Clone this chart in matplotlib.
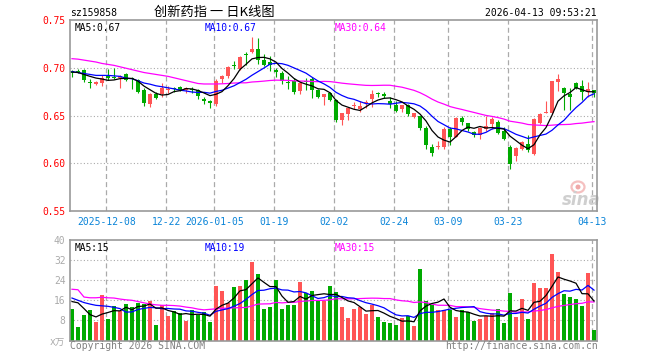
import matplotlib
matplotlib.use('Agg')
import matplotlib.pyplot as plt
import numpy as np
import pandas as pd
from matplotlib.patches import Rectangle, Ellipse

# ---------------- data ----------------
dates = [
    '2025-11-28',
    '2025-12-01', '2025-12-02', '2025-12-03', '2025-12-04', '2025-12-05',
    '2025-12-08', '2025-12-09', '2025-12-10', '2025-12-11', '2025-12-12',
    '2025-12-15', '2025-12-16', '2025-12-17', '2025-12-18', '2025-12-19',
    '2025-12-22', '2025-12-23', '2025-12-24', '2025-12-25', '2025-12-26',
    '2025-12-29', '2025-12-30', '2025-12-31',
    '2026-01-05', '2026-01-06', '2026-01-07', '2026-01-08', '2026-01-09',
    '2026-01-12', '2026-01-13', '2026-01-14', '2026-01-15', '2026-01-16',
    '2026-01-19', '2026-01-20', '2026-01-21', '2026-01-22', '2026-01-23',
    '2026-01-26', '2026-01-27', '2026-01-28', '2026-01-29', '2026-01-30',
    '2026-02-02', '2026-02-03', '2026-02-04', '2026-02-05', '2026-02-06',
    '2026-02-09', '2026-02-10', '2026-02-11', '2026-02-12', '2026-02-13',
    '2026-02-24', '2026-02-25', '2026-02-26', '2026-02-27',
    '2026-03-02', '2026-03-03', '2026-03-04', '2026-03-05', '2026-03-06',
    '2026-03-09', '2026-03-10', '2026-03-11', '2026-03-12', '2026-03-13',
    '2026-03-16', '2026-03-17', '2026-03-18', '2026-03-19', '2026-03-20',
    '2026-03-23', '2026-03-24', '2026-03-25', '2026-03-26', '2026-03-27',
    '2026-03-30', '2026-03-31', '2026-04-01', '2026-04-02', '2026-04-03',
    '2026-04-07', '2026-04-08', '2026-04-09', '2026-04-10', '2026-04-13',
]

opens = [
    0.697, 0.697, 0.698, 0.685, 0.683, 0.684, 0.691, 0.690, 0.689, 0.693,
    0.689, 0.687, 0.677, 0.662, 0.672, 0.672, 0.677, 0.679, 0.680, 0.677,
    0.678, 0.677, 0.667, 0.665, 0.662, 0.688, 0.691, 0.703, 0.699, 0.714,
    0.716, 0.7195, 0.708, 0.706, 0.698, 0.694, 0.685, 0.686, 0.676, 0.686,
    0.688, 0.677, 0.669, 0.674, 0.666, 0.6455, 0.652, 0.660, 0.657, 0.663,
    0.667, 0.674, 0.673, 0.665, 0.661, 0.657, 0.661, 0.648, 0.649, 0.637,
    0.6175, 0.617, 0.6175, 0.636, 0.628, 0.647, 0.642, 0.633, 0.6295, 0.636,
    0.641, 0.643, 0.634, 0.6165, 0.608, 0.615, 0.620, 0.610, 0.642, 0.653,
    0.653, 0.685, 0.679, 0.672, 0.6845, 0.681, 0.6745, 0.6765,
]
highs = [
    0.698, 0.699, 0.699, 0.688, 0.686, 0.692, 0.699, 0.700, 0.692, 0.695,
    0.690, 0.688, 0.679, 0.674, 0.675, 0.684, 0.681, 0.680, 0.681, 0.680,
    0.680, 0.678, 0.669, 0.666, 0.688, 0.692, 0.702, 0.707, 0.712, 0.716,
    0.732, 0.731, 0.714, 0.7125, 0.700, 0.697, 0.691, 0.689, 0.685, 0.689,
    0.690, 0.678, 0.673, 0.675, 0.667, 0.653, 0.658, 0.664, 0.665, 0.666,
    0.677, 0.675, 0.675, 0.669, 0.665, 0.661, 0.662, 0.6525, 0.650, 0.6395,
    0.620, 0.6235, 0.6375, 0.6375, 0.648, 0.649, 0.642, 0.634, 0.6375, 0.650,
    0.648, 0.645, 0.6375, 0.619, 0.6175, 0.6235, 0.6295, 0.647, 0.653, 0.6655,
    0.686, 0.693, 0.680, 0.679, 0.685, 0.6875, 0.685, 0.6765,
]
lows = [
    0.690, 0.695, 0.685, 0.679, 0.682, 0.681, 0.687, 0.688, 0.679, 0.686,
    0.678, 0.674, 0.660, 0.659, 0.667, 0.669, 0.674, 0.675, 0.676, 0.674,
    0.674, 0.667, 0.662, 0.658, 0.660, 0.684, 0.689, 0.699, 0.698, 0.703,
    0.715, 0.704, 0.702, 0.697, 0.690, 0.683, 0.678, 0.673, 0.672, 0.677,
    0.668, 0.668, 0.661, 0.665, 0.643, 0.640, 0.645, 0.657, 0.6535, 0.658,
    0.659, 0.669, 0.668, 0.658, 0.6535, 0.6535, 0.649, 0.6475, 0.635, 0.615,
    0.608, 0.615, 0.615, 0.619, 0.627, 0.640, 0.634, 0.628, 0.625, 0.634,
    0.636, 0.631, 0.6245, 0.5935, 0.602, 0.614, 0.612, 0.6085, 0.641, 0.6525,
    0.652, 0.6755, 0.656, 0.656, 0.678, 0.6665, 0.669, 0.669,
]
closes = [
    0.694, 0.696, 0.687, 0.684, 0.685, 0.689, 0.689, 0.689, 0.691, 0.687,
    0.688, 0.675, 0.663, 0.672, 0.668, 0.679, 0.678, 0.678, 0.677, 0.679,
    0.677, 0.670, 0.665, 0.663, 0.686, 0.691, 0.701, 0.702, 0.711, 0.713,
    0.7195, 0.708, 0.703, 0.703, 0.696, 0.686, 0.684, 0.675, 0.684, 0.685,
    0.677, 0.669, 0.672, 0.666, 0.645, 0.6525, 0.658, 0.661, 0.660, 0.664,
    0.673, 0.673, 0.670, 0.662, 0.655, 0.661, 0.652, 0.6525, 0.637, 0.619,
    0.611, 0.618, 0.636, 0.627, 0.647, 0.6435, 0.636, 0.6295, 0.6365, 0.639,
    0.646, 0.632, 0.6255, 0.5995, 0.6155, 0.622, 0.614, 0.646, 0.6515, 0.6535,
    0.686, 0.688, 0.674, 0.669, 0.679, 0.675, 0.6775, 0.674,
]
volumes = [
    12.4, 5.2, 10.0, 12.0, 7.3, 18.0, 8.4, 13.7, 11.6, 14.4,
    13.2, 14.8, 14.5, 15.7, 6.0, 14.0, 9.6, 11.6, 10.8, 7.6,
    12.0, 10.3, 11.2, 7.3, 21.6, 19.6, 14.8, 21.2, 21.6, 24.0,
    31.3, 26.4, 12.4, 13.2, 24.0, 12.4, 14.0, 14.0, 23.2, 18.8,
    19.6, 15.7, 15.7, 21.6, 19.3, 13.3, 8.9, 12.5, 13.3, 10.5,
    14.1, 9.3, 7.3, 6.9, 6.1, 8.9, 9.7, 5.7, 28.5, 15.7,
    14.1, 12.3, 12.0, 12.0, 9.3, 12.0, 11.3, 7.7, 8.4, 9.7,
    11.1, 12.4, 6.9, 18.9, 9.3, 16.5, 8.4, 22.9, 20.9, 20.9,
    34.5, 27.2, 18.5, 17.3, 16.5, 13.7, 26.9, 4.1,
]

# moving-average values at the left edge (history before the window)
price_ma5_head = [0.6955, 0.695, 0.693, 0.691]
price_ma10_head = [0.696, 0.695, 0.694, 0.693, 0.692, 0.692, 0.692, 0.6915, 0.691]
price_ma30_head = [0.7095, 0.709, 0.708, 0.707, 0.706, 0.7045, 0.7035, 0.7025, 0.701, 0.6995,
                   0.698, 0.6965, 0.695, 0.694, 0.693, 0.692, 0.691, 0.6895, 0.688, 0.6865,
                   0.685, 0.6835, 0.683, 0.683, 0.683, 0.6832, 0.6835, 0.684, 0.6842]
vol_ma5_head = [15.5, 15.0, 12.7, 10.3]
vol_ma10_head = [16.9, 16.0, 15.1, 14.5, 14.0, 13.8, 13.6, 13.2, 12.7]
vol_ma30_head = [20.4, 20.2, 17.3, 17.0, 17.0, 17.2, 17.0, 16.9, 16.5, 16.2,
                 16.0, 15.5, 15.0, 14.5, 14.2, 14.0, 14.0, 13.9, 13.7, 13.3,
                 13.0, 12.5, 12.2, 12.4, 12.6, 12.8, 12.9, 13.0, 13.1]

price_ma_labels = [0.67, 0.67, 0.64]
vol_ma_labels = [15, 19, 15]

tick_dates = ['2025-12-08', '2025-12-22', '2026-01-05', '2026-01-19', '2026-02-02',
              '2026-02-24', '2026-03-09', '2026-03-23', '2026-04-13']
tick_labels = ['2025-12-08', '12-22', '2026-01-05', '01-19', '02-02',
               '02-24', '03-09', '03-23', '04-13']

title = '创新药指 一 日K线图'
code = 'sz159858'
stamp = '2026-04-13 09:53:21'

# ---------------- helpers ----------------
def moving_avg(vals, n, head):
    s = pd.Series(vals, dtype=float).rolling(n).mean().to_numpy()
    s[:len(head)] = head
    return s

RED = '#ff5555'
GREEN = '#00aa00'
MONO = 'DejaVu Sans Mono'
W, H = 660, 360

fig = plt.figure(figsize=(6.6, 3.6), dpi=100)

def box(l, t, r, b):
    return [l / W, 1 - b / H, (r - l) / W, (b - t) / H]

ax = fig.add_axes(box(70.3, 20, 597.3, 211))
axv = fig.add_axes(box(70.3, 240, 597.3, 340.5))

n = len(dates)
x = np.arange(n)
xl = (-0.28, 87.55)
tick_pos = [dates.index(d) - 0.25 for d in tick_dates]

# ---------------- price panel ----------------
for i in range(n):
    o, h, l, c = opens[i], highs[i], lows[i], closes[i]
    col = RED if c >= o else GREEN
    ax.vlines(i, l, h, color=col, lw=0.8, zorder=2)
    bot = min(o, c)
    hgt = max(abs(c - o), 0.0009)
    ax.add_patch(Rectangle((i - 0.4, bot), 0.8, hgt, facecolor=col, edgecolor='none', zorder=2))

ax.plot(x, moving_avg(closes, 30, price_ma30_head), color='#ff00ff', lw=0.9, zorder=3)
ax.plot(x, moving_avg(closes, 10, price_ma10_head), color='#0000ff', lw=0.9, zorder=3)
ax.plot(x, moving_avg(closes, 5, price_ma5_head), color='black', lw=0.9, zorder=3)

ax.set_xlim(*xl)
ax.set_ylim(0.55, 0.75)
ax.set_yticks([0.55, 0.60, 0.65, 0.70, 0.75])
ax.set_yticklabels(['0.55', '0.60', '0.65', '0.70', '0.75'], color='#ff0000',
                   fontsize=6.9, family=MONO)
for yv in [0.60, 0.65, 0.70]:
    ax.axhline(yv, color='#aaaaaa', lw=0.8, ls=(0, (1, 2)), zorder=1)
for tp in tick_pos:
    ax.axvline(tp, color='#aaaaaa', lw=0.9, ls=(0, (4, 2.5)), zorder=1)
ax.set_xticks(tick_pos)
ax.set_xticklabels(tick_labels, color='#0a84d8', fontsize=7, family=MONO)
ax.tick_params(length=0, pad=4.0)
ax.tick_params(axis='y', pad=3.5)
for sp in ax.spines.values():
    sp.set_color('#999999')
    sp.set_linewidth(1.2)

ax.text(0.009, 0.985, f'MA5:{price_ma_labels[0]:.2f}', transform=ax.transAxes, color='black',
        fontsize=6.9, family=MONO, va='top', ha='left')
ax.text((205 - 70.3) / 527, 0.985, f'MA10:{price_ma_labels[1]:.2f}', transform=ax.transAxes,
        color='#0000ff', fontsize=6.9, family=MONO, va='top', ha='left')
ax.text((335 - 70.3) / 527, 0.985, f'MA30:{price_ma_labels[2]:.2f}', transform=ax.transAxes,
        color='#ff00ff', fontsize=6.9, family=MONO, va='top', ha='left')

# sina watermark (eye logo drawn as shapes, wordmark as text)
ex, ey = (578 - 70.3) / 527, (211 - 187) / 191
ax.add_patch(Ellipse((ex, ey), 13 / 527, 11 / 191, transform=ax.transAxes, facecolor='none',
                     edgecolor='#f5c0c0', lw=1.6, zorder=1))
ax.add_patch(Ellipse((ex, ey), 5 / 527, 5 / 191, transform=ax.transAxes, facecolor='#f0a8a8',
                     edgecolor='none', zorder=1))
ax.text((581 - 70.3) / 527, (211 - 200) / 191, 'sina', transform=ax.transAxes, color='#cfcfcf',
        fontsize=12, fontweight='bold', style='italic', ha='center', va='center', zorder=1)

# ---------------- volume panel ----------------
vcols = [RED if closes[i] >= opens[i] else GREEN for i in range(n)]
axv.bar(x, volumes, width=0.8, color=vcols, zorder=2)
axv.plot(x, moving_avg(volumes, 30, vol_ma30_head), color='#ff00ff', lw=0.9, zorder=3)
axv.plot(x, moving_avg(volumes, 10, vol_ma10_head), color='#0000ff', lw=0.9, zorder=3)
axv.plot(x, moving_avg(volumes, 5, vol_ma5_head), color='black', lw=0.9, zorder=3)
axv.set_xlim(*xl)
axv.set_ylim(0, 40)
axv.set_yticks([0, 8, 16, 24, 32, 40])
axv.set_yticklabels(['x万', '8', '16', '24', '32', '40'], color='#aaaaaa', fontsize=6.9,
                    family=[MONO, 'Noto Sans CJK SC'])
for yv in [8, 16, 24, 32]:
    axv.axhline(yv, color='#aaaaaa', lw=0.8, ls=(0, (1, 2)), zorder=1)
for tp in tick_pos:
    axv.axvline(tp, color='#aaaaaa', lw=0.9, ls=(0, (4, 2.5)), zorder=1)
axv.set_xticks([])
axv.tick_params(length=0, pad=3.5)
for sp in axv.spines.values():
    sp.set_color('#999999')
    sp.set_linewidth(1.2)

axv.text(0.009, 0.97, f'MA5:{vol_ma_labels[0]}', transform=axv.transAxes, color='black',
         fontsize=6.9, family=MONO, va='top', ha='left')
axv.text((205 - 70.3) / 527, 0.97, f'MA10:{vol_ma_labels[1]}', transform=axv.transAxes,
         color='#0000ff', fontsize=6.9, family=MONO, va='top', ha='left')
axv.text((335 - 70.3) / 527, 0.97, f'MA30:{vol_ma_labels[2]}', transform=axv.transAxes,
         color='#ff00ff', fontsize=6.9, family=MONO, va='top', ha='left')

# ---------------- header / footer ----------------
fig.text(70 / W, 1 - 13 / H, code, color='black', fontsize=7, family=MONO, ha='left', va='center')
fig.text(214 / W, 1 - 12.5 / H, title, color='black', fontsize=9.5,
         family=['Noto Sans CJK SC', 'DejaVu Sans'], ha='center', va='center')
fig.text(597 / W, 1 - 13 / H, stamp, color='black', fontsize=7, family=MONO, ha='right', va='center')
fig.text(69.5 / W, 1 - 346 / H, 'Copyright 2026 SINA.COM', color='#808080', fontsize=7,
         family=MONO, ha='left', va='center')
fig.text(597.5 / W, 1 - 346 / H, 'http://finance.sina.com.cn', color='#808080', fontsize=7,
         family=MONO, ha='right', va='center')

fig.savefig('out.png', dpi=100, facecolor='white')
